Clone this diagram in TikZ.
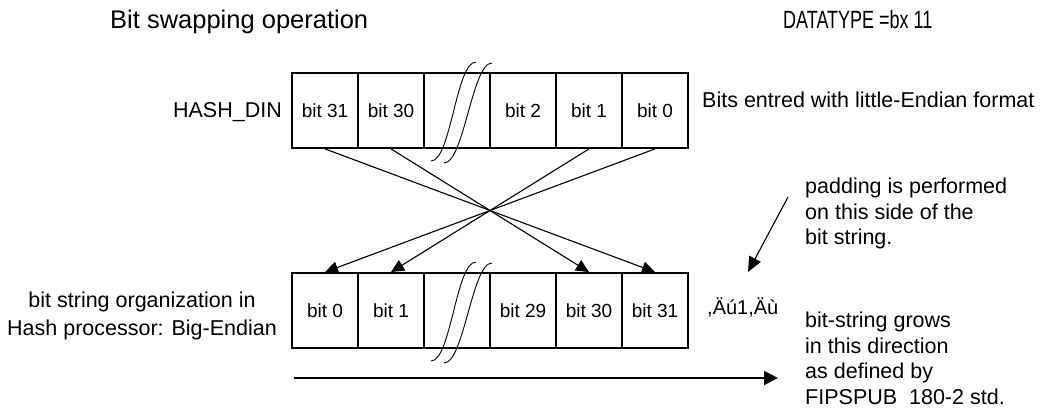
\documentclass[tikz,border=0pt]{standalone}
\usepackage{fontspec}
\setmainfont{Liberation Sans}
\usepackage{graphicx}
\usetikzlibrary{arrows.meta}

\tikzset{
  cell/.style={draw, line width=1.8pt, minimum width=66pt, minimum height=75pt,
    inner sep=0pt, font=\fontsize{19}{22}\selectfont},
  txt/.style={inner sep=0pt, font=\fontsize{21.5}{25.5}\selectfont},
  swaparr/.style={line width=1.1pt, -{Triangle[length=13pt,width=12pt]}},
  brk/.style={line width=0.9pt},
}

\begin{document}
\begin{tikzpicture}[x=1pt, y=-1pt]
    \useasboundingbox (0,0) rectangle (1045,416);

    % Headings
    \node[txt, font=\fontsize{25.5}{30}\selectfont, anchor=base west] (title) at (110,28) {Bit swapping operation};
    \node[txt, font=\fontsize{25}{30}\selectfont, anchor=base west] (dtype) at (783,28) {\scalebox{0.72}[1]{DATATYPE =bx 11}};

    % HASH_DIN word (top)
    \node[cell] (t1) at (325,110.5) {bit 31};
    \node[cell] (t2) at (391,110.5) {bit 30};
    \node[cell] (t3) at (457,110.5) {};
    \node[cell] (t4) at (523,110.5) {bit 2};
    \node[cell] (t5) at (589,110.5) {bit 1};
    \node[cell] (t6) at (655,110.5) {bit 0};

    % Hash processor word (bottom)
    \node[cell] (b1) at (325,310.5) {bit 0};
    \node[cell] (b2) at (391,310.5) {bit 1};
    \node[cell] (b3) at (457,310.5) {};
    \node[cell] (b4) at (523,310.5) {bit 29};
    \node[cell] (b5) at (589,310.5) {bit 30};
    \node[cell] (b6) at (655,310.5) {bit 31};

    % Break marks
    \draw[brk] (431,161) .. controls (451,161) and (456,62) .. (476,62);
    \draw[brk] (444,163) .. controls (464,163) and (472,63) .. (492,63);
    \begin{scope}[shift={(0,200)}]
      \draw[brk] (431,161) .. controls (451,161) and (456,62) .. (476,62);
      \draw[brk] (444,163) .. controls (464,163) and (472,63) .. (492,63);
    \end{scope}

    % Swapping
    \draw[swaparr] (t1.south) -- (b6.north);
    \draw[swaparr] (t2.south) -- (b5.north);
    \draw[swaparr] (t5.south) -- (b2.north);
    \draw[swaparr] (t6.south) -- (b1.north);

    % Labels
    \node[txt, anchor=base east] (din) at (282,117) {HASH\_DIN};
    \node[txt, anchor=base west] (lefmt) at (702,107) {Bits entred with little-Endian format};
    \node[txt, anchor=north west, align=left] (pad) at (805,178) {padding is performed\\on this side of the\\bit string.};
    \node[txt, font=\fontsize{21.5}{28}\selectfont, anchor=north, align=center] (bigend) at (142,292) {bit string organization in\\Hash processor: Big-Endian};
    \node[txt, font=\fontsize{20}{24}\selectfont, anchor=base west] (quot) at (707,314) {,Äú1,Äù};
    \node[txt, anchor=north west, align=left] (grow) at (805,312) {bit-string grows\\in this direction\\as defined by\\FIPSPUB\ \ 180-2 std.};

    % Padding side and growth direction
    \coordinate (padfrom) at (788,197);
    \coordinate (padto) at (748,272);
    \draw[line width=1.1pt, -{Triangle[length=15pt,width=13pt]}] (padfrom) -- (padto);
    \coordinate (growfrom) at (294,378);
    \coordinate (growto) at (778,378);
    \draw[line width=1.8pt, -{Triangle[length=14pt,width=14pt]}] (growfrom) -- (growto);
\end{tikzpicture}
\end{document}
